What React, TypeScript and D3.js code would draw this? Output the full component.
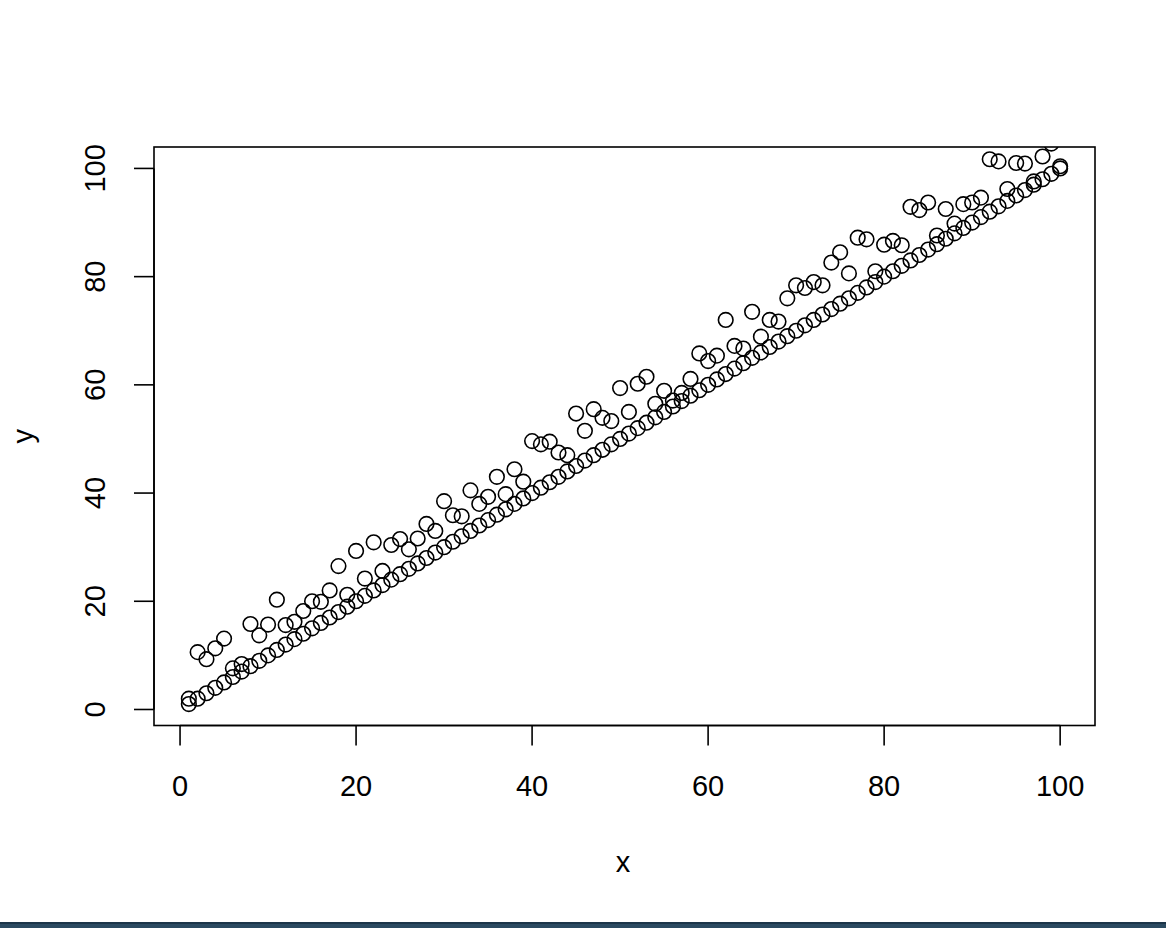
import React from "react";
import * as d3 from "d3";

const xValues = [
  1, 2, 3, 4, 5, 6, 7, 8, 9, 10, 11, 12, 13, 14, 15, 16, 17, 18, 19, 20,
  21, 22, 23, 24, 25, 26, 27, 28, 29, 30, 31, 32, 33, 34, 35, 36, 37, 38, 39, 40,
  41, 42, 43, 44, 45, 46, 47, 48, 49, 50, 51, 52, 53, 54, 55, 56, 57, 58, 59, 60,
  61, 62, 63, 64, 65, 66, 67, 68, 69, 70, 71, 72, 73, 74, 75, 76, 77, 78, 79, 80,
  81, 82, 83, 84, 85, 86, 87, 88, 89, 90, 91, 92, 93, 94, 95, 96, 97, 98, 99, 100,
];

// first series: y equals x
const ySeriesA = xValues;

// second series: noisy values
const ySeriesB = [
  2.0, 10.6, 9.3, 11.3, 13.1, 7.6, 8.4, 15.8, 13.7, 15.7,
  20.3, 15.6, 16.2, 18.2, 20.0, 19.9, 22.0, 26.5, 21.2, 29.3,
  24.2, 30.9, 25.6, 30.4, 31.5, 29.6, 31.6, 34.3, 33.0, 38.5,
  35.9, 35.7, 40.5, 38.0, 39.3, 43.0, 39.8, 44.4, 42.1, 49.6,
  49.0, 49.5, 47.5, 47.0, 54.7, 51.5, 55.5, 53.9, 53.3, 59.4,
  55.0, 60.2, 61.5, 56.5, 58.9, 57.1, 58.5, 61.1, 65.8, 64.4,
  65.4, 72.0, 67.2, 66.7, 73.5, 68.9, 72.0, 71.7, 76.0, 78.4,
  77.9, 79.0, 78.4, 82.6, 84.5, 80.6, 87.2, 86.9, 81.0, 85.9,
  86.6, 85.8, 92.9, 92.3, 93.7, 87.6, 92.5, 89.8, 93.4, 93.7,
  94.6, 101.7, 101.3, 96.2, 101.0, 100.9, 97.6, 102.2, 104.6, 100.4,
];

const xTicks = [0, 20, 40, 60, 80, 100];
const yTicks = [0, 20, 40, 60, 80, 100];
const xLabel = "x";
const yLabel = "y";

export default function App() {
  const W = 1166;
  const H = 928;
  const left = 154;
  const right = 1095;
  const top = 147;
  const bottom = 725.5;

  const ext = d3.extent(xValues) as [number, number];
  const pad = (ext[1] - ext[0]) * 0.04;
  const x = d3.scaleLinear().domain([ext[0] - pad, ext[1] + pad]).range([left, right]);
  const y = d3.scaleLinear().domain([ext[0] - pad, ext[1] + pad]).range([bottom, top]);

  const font = "'Liberation Sans', Arial, Helvetica, sans-serif";
  const fs = 29;
  const tick = 20;
  const r = 7.3;
  const sw = 1.6;

  return (
    <svg
      width={W}
      height={H}
      style={{ position: "absolute", left: 0, top: 0, background: "#fff" }}
      fontFamily={font}
    >
      <defs>
        <clipPath id="plotclip">
          <rect x={left} y={top} width={right - left} height={bottom - top} />
        </clipPath>
      </defs>
      <rect x={0} y={0} width={W} height={H} fill="#fff" />

      <g clipPath="url(#plotclip)" fill="none" stroke="#000" strokeWidth={sw}>
        {xValues.map((v, i) => (
          <circle key={"a" + i} cx={x(v)} cy={y(ySeriesA[i])} r={r} />
        ))}
        {xValues.map((v, i) => (
          <circle key={"b" + i} cx={x(v)} cy={y(ySeriesB[i])} r={r} />
        ))}
      </g>

      <rect
        x={left}
        y={top}
        width={right - left}
        height={bottom - top}
        fill="none"
        stroke="#000"
        strokeWidth={sw}
      />

      {/* x axis */}
      <g stroke="#000" strokeWidth={sw}>
        <line x1={x(xTicks[0])} x2={x(xTicks[xTicks.length - 1])} y1={bottom} y2={bottom} />
        {xTicks.map((t) => (
          <line key={t} x1={x(t)} x2={x(t)} y1={bottom} y2={bottom + tick} />
        ))}
      </g>
      {xTicks.map((t) => (
        <text key={t} x={x(t)} y={796} fontSize={fs} textAnchor="middle" fill="#000">
          {t}
        </text>
      ))}

      {/* y axis */}
      <g stroke="#000" strokeWidth={sw}>
        <line x1={left} x2={left} y1={y(yTicks[0])} y2={y(yTicks[yTicks.length - 1])} />
        {yTicks.map((t) => (
          <line key={t} x1={left - tick} x2={left} y1={y(t)} y2={y(t)} />
        ))}
      </g>
      {yTicks.map((t) => (
        <text
          key={t}
          transform={`translate(105,${y(t)}) rotate(-90)`}
          fontSize={fs}
          textAnchor="middle"
          fill="#000"
        >
          {t}
        </text>
      ))}

      <text x={623} y={872} fontSize={fs} textAnchor="middle" fill="#000">
        {xLabel}
      </text>
      <text
        transform={`translate(33,${(top + bottom) / 2}) rotate(-90)`}
        fontSize={fs}
        textAnchor="middle"
        fill="#000"
      >
        {yLabel}
      </text>

      <rect x={0} y={922} width={W} height={6} fill="#2b4a61" />
      <rect x={0} y={922} width={W} height={2} fill="#1c3549" />
    </svg>
  );
}
